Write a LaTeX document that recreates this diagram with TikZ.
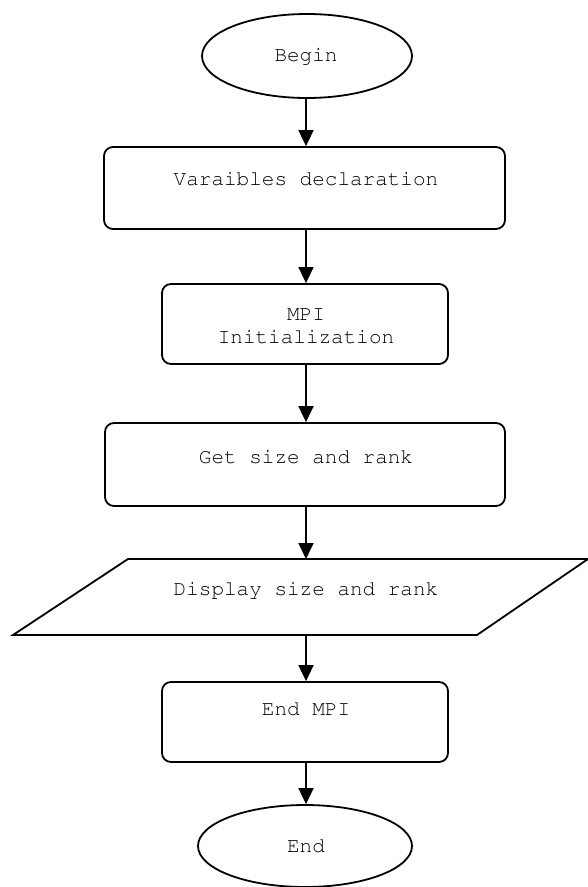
\documentclass[tikz,border=0pt]{standalone}
\usepackage[T1]{fontenc}
\usepackage{courier}
\usetikzlibrary{shapes.geometric,arrows.meta}
\tikzset{
  base/.style={draw=black, line width=1.8pt, inner sep=0pt, fill=white},
  terminal/.style={base, ellipse},
  procbox/.style={base, rectangle, rounded corners=9pt},
  iobox/.style={draw=black, line width=1.8pt, fill=white, line join=miter},
  txt/.style={font=\ttfamily\fontsize{21}{23}\selectfont, text=black, align=center, inner sep=0pt},
  flow/.style={draw=black, line width=1.8pt, -{Triangle[width=15pt,length=16pt]}},
}
\begin{document}
\begin{tikzpicture}[x=1pt, y=-1pt]
  \useasboundingbox (0,0) rectangle (587,887);

  % start
  \node[terminal, minimum width=210pt, minimum height=84pt] (begin) at (307,56) {};
  \node[txt] (begint) at (306,56) {Begin};

  % declarations
  \node[procbox, minimum width=401pt, minimum height=82pt] (decl) at (304.5,188) {};
  \node[txt] (declt) at (306,179) {Varaibles declaration};

  % MPI init
  \node[procbox, minimum width=286pt, minimum height=80pt] (init) at (305,324) {};
  \node[txt] (initt) at (306,326) {MPI\\Initialization};

  % size and rank
  \node[procbox, minimum width=400pt, minimum height=83pt] (get) at (305,464.5) {};
  \node[txt] (gett) at (306,457) {Get size and rank};

  % output (parallelogram)
  \draw[iobox] (13,635) -- (128,559) -- (588,559) -- (477,635) -- cycle;
  \coordinate (disp-n) at (306,559);
  \coordinate (disp-s) at (306,635);
  \node[txt] (dispt) at (306,590) {Display size and rank};

  % finalize
  \node[procbox, minimum width=286pt, minimum height=80pt] (fin) at (305,722) {};
  \node[txt] (fint) at (306,709) {End MPI};

  % end
  \node[terminal, minimum width=214pt, minimum height=82pt] (end) at (305,846) {};
  \node[txt] (endt) at (306,846) {End};

  % connectors
  \draw[flow] (begin.south -| 306,0) -- (decl.north -| 306,0);
  \draw[flow] (decl.south -| 306,0) -- (init.north -| 306,0);
  \draw[flow] (init.south -| 306,0) -- (get.north -| 306,0);
  \draw[flow] (get.south -| 306,0) -- (disp-n);
  \draw[flow] (disp-s) -- (fin.north -| 306,0);
  \draw[flow] (fin.south -| 306,0) -- (end.north -| 306,0);
\end{tikzpicture}
\end{document}
